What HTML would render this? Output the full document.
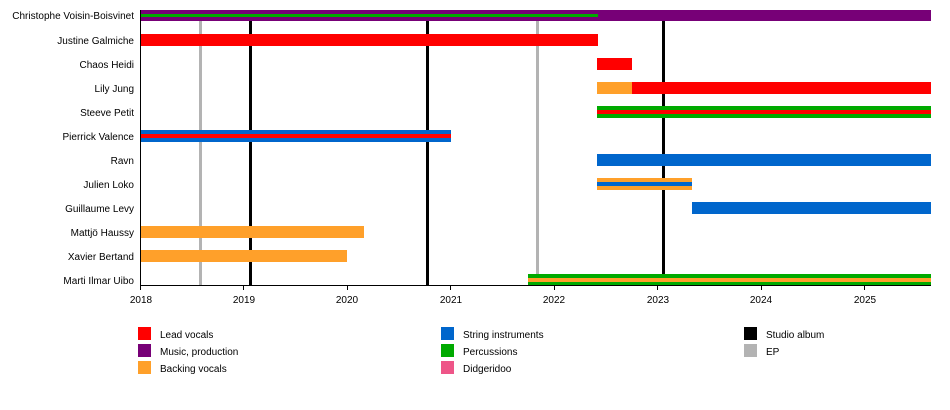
<!DOCTYPE html>
<html><head><style>
body{margin:0;background:#fff;}
svg text{font-family:"Liberation Sans",sans-serif;font-size:10px;fill:#000;}
</style></head><body>
<svg width="950" height="405" xmlns="http://www.w3.org/2000/svg">
<rect width="950" height="405" fill="#fff"/>
<!-- vertical event lines -->
<rect x="199" y="21" width="3" height="264" fill="#b3b3b3"/>
<rect x="536" y="21" width="3" height="264" fill="#b3b3b3"/>
<rect x="249" y="21" width="3" height="264" fill="#000"/>
<rect x="426" y="21" width="3" height="264" fill="#000"/>
<rect x="662" y="21" width="3" height="264" fill="#000"/>
<!-- bars -->
<rect x="141" y="10" width="790" height="11" fill="#770077"/>
<rect x="141" y="14" width="457" height="3" fill="#00aa00"/>
<rect x="141" y="34" width="457" height="12" fill="#ff0000"/>
<rect x="597" y="58" width="35" height="12" fill="#ff0000"/>
<rect x="597" y="82" width="35" height="12" fill="#ffa02a"/>
<rect x="632" y="82" width="299" height="12" fill="#ff0000"/>
<rect x="597" y="106" width="334" height="12" fill="#00aa00"/>
<rect x="597" y="110" width="334" height="4" fill="#ff0000"/>
<rect x="141" y="130" width="310" height="12" fill="#0066cc"/>
<rect x="141" y="134" width="310" height="4" fill="#ff0000"/>
<rect x="597" y="154" width="334" height="12" fill="#0066cc"/>
<rect x="597" y="178" width="95" height="12" fill="#ffa02a"/>
<rect x="597" y="182" width="95" height="4" fill="#0066cc"/>
<rect x="692" y="202" width="239" height="12" fill="#0066cc"/>
<rect x="141" y="226" width="223" height="12" fill="#ffa02a"/>
<rect x="141" y="250" width="206" height="12" fill="#ffa02a"/>
<rect x="528" y="274" width="403" height="11" fill="#00aa00"/>
<rect x="528" y="278" width="403" height="4" fill="#ffa02a"/>
<!-- axes -->
<rect x="140" y="10" width="1" height="276" fill="#000"/>
<rect x="140" y="285" width="791" height="1" fill="#000"/>
<g fill="#000">
<rect x="140" y="285" width="1" height="5"/><rect x="243" y="285" width="1" height="5"/><rect x="347" y="285" width="1" height="5"/><rect x="450" y="285" width="1" height="5"/><rect x="554" y="285" width="1" height="5"/><rect x="657" y="285" width="1" height="5"/><rect x="761" y="285" width="1" height="5"/><rect x="864" y="285" width="1" height="5"/>
</g>
<g text-anchor="middle">
<text x="141" y="303">2018</text><text x="244" y="303">2019</text><text x="347" y="303">2020</text><text x="451" y="303">2021</text><text x="554" y="303">2022</text><text x="658" y="303">2023</text><text x="761" y="303">2024</text><text x="865" y="303">2025</text>
</g>
<g text-anchor="end">
<text x="134" y="19">Christophe Voisin-Boisvinet</text>
<text x="134" y="44">Justine Galmiche</text>
<text x="134" y="68">Chaos Heidi</text>
<text x="134" y="92">Lily Jung</text>
<text x="134" y="116">Steeve Petit</text>
<text x="134" y="140">Pierrick Valence</text>
<text x="134" y="164">Ravn</text>
<text x="134" y="188">Julien Loko</text>
<text x="134" y="212">Guillaume Levy</text>
<text x="134" y="236">Mattjö Haussy</text>
<text x="134" y="260">Xavier Bertand</text>
<text x="134" y="284">Marti Ilmar Uibo</text>
</g>
<!-- legend -->
<rect x="138" y="327" width="13" height="13" fill="#ff0000"/>
<rect x="138" y="344" width="13" height="13" fill="#770077"/>
<rect x="138" y="361" width="13" height="13" fill="#ffa02a"/>
<text x="160" y="338">Lead vocals</text>
<text x="160" y="355">Music, production</text>
<text x="160" y="372">Backing vocals</text>
<rect x="441" y="327" width="13" height="13" fill="#0066cc"/>
<rect x="441" y="344" width="13" height="13" fill="#00aa00"/>
<rect x="441" y="361" width="13" height="13" fill="#ee5588"/>
<text x="463" y="338">String instruments</text>
<text x="463" y="355">Percussions</text>
<text x="463" y="372">Didgeridoo</text>
<rect x="744" y="327" width="13" height="13" fill="#000"/>
<rect x="744" y="344" width="13" height="13" fill="#b3b3b3"/>
<text x="766" y="338">Studio album</text>
<text x="766" y="355">EP</text>
</svg>
</body></html>
